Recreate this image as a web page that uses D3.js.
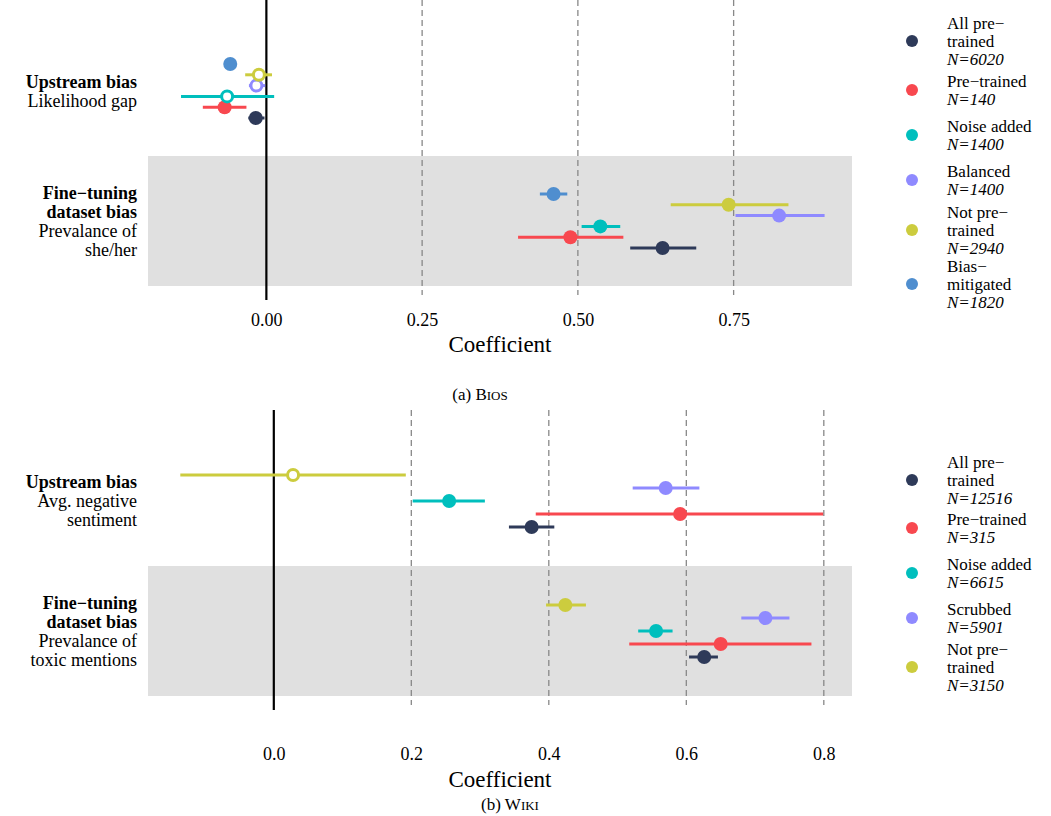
<!DOCTYPE html>
<html><head><meta charset="utf-8">
<script src="https://cdn.jsdelivr.net/npm/d3@7"></script>
<style>
body{margin:0;background:#fff;}
svg text{font-family:"Liberation Serif","Times New Roman","DejaVu Serif",serif !important;fill:#000;}
</style></head>
<body><div id="svg_container"></div>
<script>
/* -----------------------
data
------------------------- */
var groups = ["upstream", "finetune"];

// Bios
var biosSeries = ["All pre–trained", "Pre–trained", "Noise added", "Balanced", "Not pre–trained", "Bias–mitigated"];
var biosLegend = [["All pre−", "trained", "N=6020"], ["Pre−trained", "N=140"], ["Noise added", "N=1400"],
    ["Balanced", "N=1400"], ["Not pre−", "trained", "N=2940"], ["Bias−", "mitigated", "N=1820"]];
var biosUpEst = [-0.017, -0.067, -0.063, -0.016, -0.012, -0.058];
var biosUpLo  = [-0.029, -0.102, -0.137, -0.028, -0.034, -0.062];
var biosUpHi  = [-0.003, -0.032, 0.0125, -0.002, 0.009, -0.054];
var biosUpOpen = [false, false, true, true, true, false];
var biosFtEst = [0.636, 0.488, 0.536, 0.823, 0.742, 0.461];
var biosFtLo  = [0.584, 0.404, 0.506, 0.753, 0.649, 0.439];
var biosFtHi  = [0.690, 0.573, 0.568, 0.896, 0.838, 0.483];
var biosTicks = [0, 0.25, 0.5, 0.75];
var biosTickLabels = ["0.00", "0.25", "0.50", "0.75"];

// Wiki
var wikiSeries = ["All pre–trained", "Pre–trained", "Noise added", "Scrubbed", "Not pre–trained"];
var wikiLegend = [["All pre−", "trained", "N=12516"], ["Pre−trained", "N=315"], ["Noise added", "N=6615"],
    ["Scrubbed", "N=5901"], ["Not pre−", "trained", "N=3150"]];
var wikiUpEst = [0.375, 0.591, 0.255, 0.570, 0.028];
var wikiUpLo  = [0.342, 0.381, 0.202, 0.522, -0.136];
var wikiUpHi  = [0.408, 0.799, 0.307, 0.619, 0.192];
var wikiUpOpen = [false, false, false, false, true];
var wikiFtEst = [0.626, 0.650, 0.556, 0.715, 0.424];
var wikiFtLo  = [0.604, 0.517, 0.530, 0.680, 0.396];
var wikiFtHi  = [0.646, 0.782, 0.580, 0.750, 0.454];
var wikiTicks = [0, 0.2, 0.4, 0.6, 0.8];
var wikiTickLabels = ["0.0", "0.2", "0.4", "0.6", "0.8"];

var colors = ["#2e3a59", "#f8484f", "#00bfbd", "#8f8aff", "#cccc3e", "#4f8ecf"];

/* -----------------------
svg
------------------------- */
var width = 1051, height = 816;
var svg = d3.select("#svg_container").append("svg")
    .attr("width", width).attr("height", height)
    .style("font-family", "'Liberation Serif', 'Times New Roman', serif");

function drawPanel(p) {
    var g = svg.append("g").attr("transform", "translate(0," + p.top + ")");
    var x = d3.scaleLinear().domain(p.domain).range([148, 852]);
    var y = d3.scaleBand().domain(groups).range([26, 286]);
    var n = p.series.length;
    var off = d3.scalePoint().domain(d3.range(n)).range([p.spread / 2, -p.spread / 2]);

    g.append("rect").attr("x", 148).attr("width", 704)
        .attr("y", y("finetune")).attr("height", y.bandwidth()).attr("fill", "#e0e0e0");

    g.selectAll(".grid").data(p.ticks.filter(function(t){ return t !== 0; })).enter()
        .append("line")
        .attr("x1", function(d){ return x(d); }).attr("x2", function(d){ return x(d); })
        .attr("y1", 0).attr("y2", 295)
        .attr("stroke", "#888").attr("stroke-width", 1.3).attr("stroke-dasharray", "6,4");

    g.append("line").attr("x1", x(0)).attr("x2", x(0)).attr("y1", 0).attr("y2", 300)
        .attr("stroke", "#000").attr("stroke-width", 2.2);

    var axis = g.append("g").attr("transform", "translate(0," + (p.tickY - 14) + ")")
        .call(d3.axisBottom(x).tickValues(p.ticks).tickSize(0).tickFormat(function(d, i){ return p.tickLabels[i]; }));
    axis.select(".domain").remove();
    axis.attr("font-family", null);
    axis.selectAll("text").attr("font-size", 18);

    g.append("text").attr("x", p.coefX).attr("y", p.coefY)
        .attr("text-anchor", "middle").attr("font-size", 23).text("Coefficient");

    var rows = [];
    [["upstream", p.upEst, p.upLo, p.upHi, p.upOpen], ["finetune", p.ftEst, p.ftLo, p.ftHi, null]]
        .forEach(function(r) {
            for (var i = 0; i < n; i++) {
                rows.push({g: r[0], i: i, est: r[1][i], lo: r[2][i], hi: r[3][i], open: r[4] ? r[4][i] : false});
            }
        });
    function cy(d){ return y(d.g) + y.bandwidth() / 2 + off(d.i); }

    g.selectAll(".bar").data(rows).enter().append("line")
        .attr("x1", function(d){ return x(d.lo); }).attr("x2", function(d){ return x(d.hi); })
        .attr("y1", cy).attr("y2", cy)
        .attr("stroke", function(d){ return colors[d.i]; }).attr("stroke-width", 3);
    g.selectAll(".pt").data(rows).enter().append("circle")
        .attr("cx", function(d){ return x(d.est); }).attr("cy", cy)
        .attr("r", function(d){ return d.open ? 5.5 : 7; })
        .attr("fill", function(d){ return d.open ? "#fff" : colors[d.i]; })
        .attr("stroke", function(d){ return colors[d.i]; })
        .attr("stroke-width", function(d){ return d.open ? 3 : 0; });

    // y labels
    p.ylabels.forEach(function(lab, k) {
        var yc = y(groups[k]) + y.bandwidth() / 2;
        var t = g.append("text").attr("text-anchor", "end").attr("font-size", 18);
        lab.forEach(function(line, j) {
            t.append("tspan").attr("x", 137).attr("y", yc - (lab.length - 1) * 19 / 2 + j * 19 + 6)
                .attr("font-weight", j < lab.bold ? "bold" : "normal").text(line);
        });
    });

    // legend
    var ly = p.legendY;
    p.legend.forEach(function(lines, i) {
        var lg = g.append("g").attr("transform", "translate(0," + ly[i] + ")");
        lg.append("circle").attr("cx", 912).attr("cy", 0).attr("r", 6).attr("fill", colors[i]);
        lines.forEach(function(line, j) {
            lg.append("text").attr("x", 947).attr("font-size", 17)
                .attr("y", -(lines.length - 1) * 18 / 2 + j * 18 + 6)
                .attr("font-style", j === lines.length - 1 ? "italic" : "normal").text(line);
        });
    });

    var cap = g.append("text").attr("x", p.capX).attr("y", p.capY).attr("text-anchor", "middle").attr("font-size", 17);
    cap.append("tspan").text(p.cap[0]);
    cap.append("tspan").attr("font-size", 13).text(p.cap[1]);
}

var biosLab = [["Upstream bias", "Likelihood gap"], ["Fine−tuning", "dataset bias", "Prevalance of", "she/her"]];
biosLab[0].bold = 1; biosLab[1].bold = 2;
var wikiLab = [["Upstream bias", "Avg. negative", "sentiment"], ["Fine−tuning", "dataset bias", "Prevalance of", "toxic mentions"]];
wikiLab[0].bold = 1; wikiLab[1].bold = 2;

drawPanel({top: 0, domain: [-0.19, 0.94], series: biosSeries, spread: 54,
    upEst: biosUpEst, upLo: biosUpLo, upHi: biosUpHi, upOpen: biosUpOpen,
    ftEst: biosFtEst, ftLo: biosFtLo, ftHi: biosFtHi,
    ticks: biosTicks, tickLabels: biosTickLabels, tickY: 324, coefX: 500, coefY: 352,
    ylabels: biosLab, legend: biosLegend, legendY: [41, 90, 135, 180, 230, 284],
    cap: ["(a) B", "IOS"], capX: 480, capY: 400});

drawPanel({top: 410, domain: [-0.183, 0.841], series: wikiSeries, spread: 52,
    upEst: wikiUpEst, upLo: wikiUpLo, upHi: wikiUpHi, upOpen: wikiUpOpen,
    ftEst: wikiFtEst, ftLo: wikiFtLo, ftHi: wikiFtHi,
    ticks: wikiTicks, tickLabels: wikiTickLabels, tickY: 348, coefX: 500, coefY: 377,
    ylabels: wikiLab, legend: wikiLegend, legendY: [70, 118, 163, 208, 257],
    cap: ["(b) W", "IKI"], capX: 510, capY: 400});
</script></body></html>
